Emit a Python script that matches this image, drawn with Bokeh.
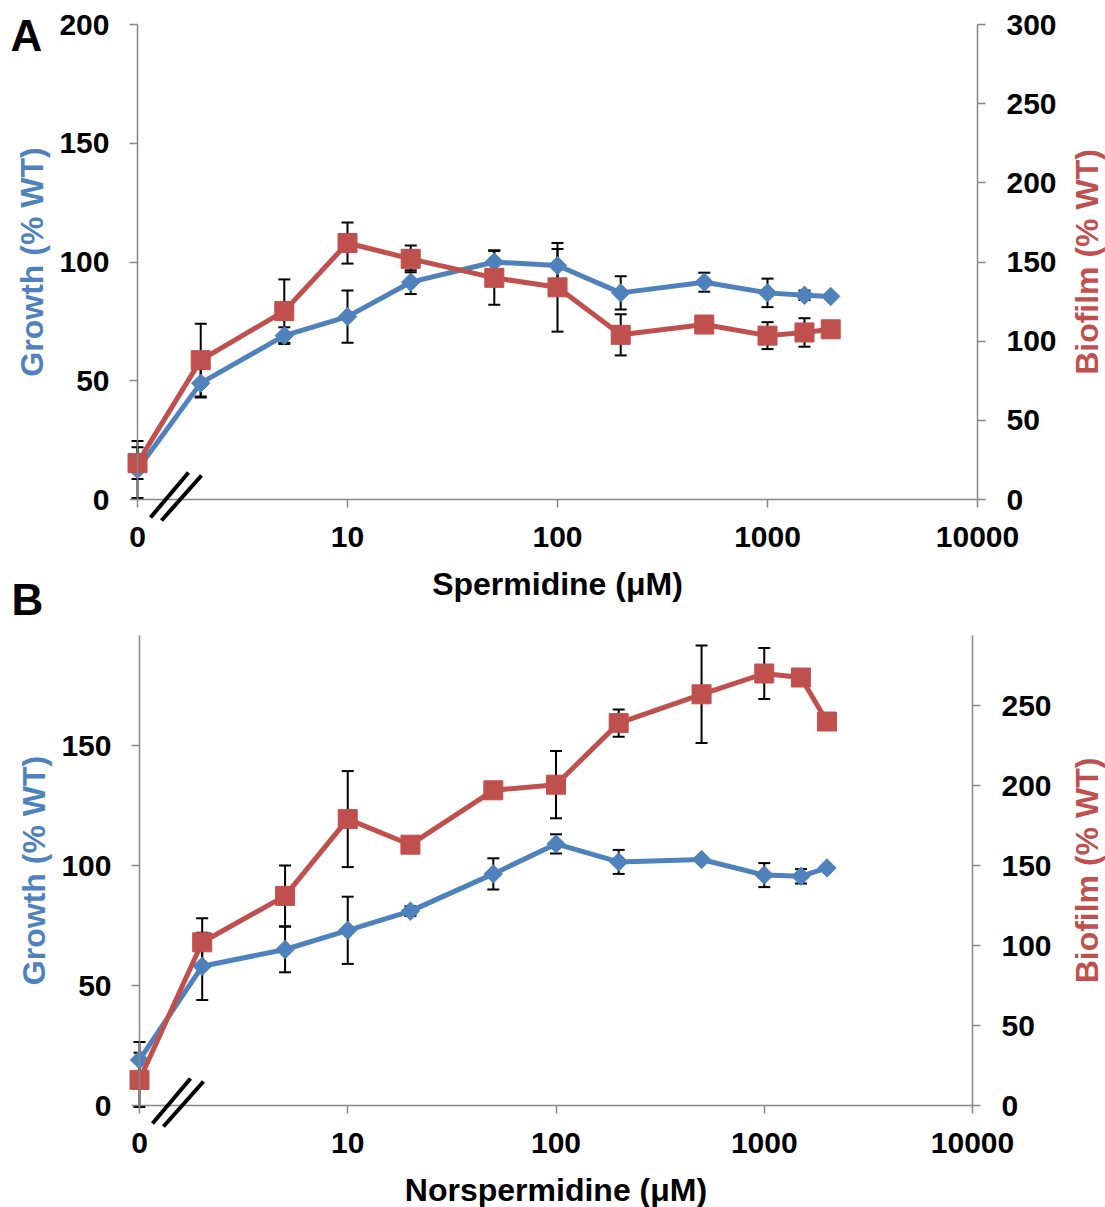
import numpy as np
from bokeh.plotting import figure
from bokeh.models import (Range1d, LinearAxis, FixedTicker, Whisker, TeeHead,
                          ColumnDataSource, Label, Arrow)
from bokeh.layouts import column
from bokeh.embed import file_html
from bokeh.resources import INLINE

# ---------------- data ----------------
concentration = [0, 2, 5, 10, 20, 50, 100, 200, 500, 1000, 1500, 2000]   # uM, 0 plotted at 1
x_ticks = [1, 10, 100, 1000, 10000]
x_tick_labels = ["0", "10", "100", "1000", "10000"]
growth_ticks = [0, 50, 100, 150, 200]
biofilm_ticks = [0, 50, 100, 150, 200, 250, 300]

# Panel A: spermidine
spd_growth = [12.6, 49, 69, 77, 91.5, 100, 98.5, 87, 91.5, 87, 86, 85.5]
spd_growth_err = [12, 6, 3.5, 11, 5, 5, 7, 7, 4, 6, 2, 0]
spd_biofilm = [23, 88, 119, 162, 152, 140, 134, 104, 110.5, 103.5, 105.5, 107.5]
spd_biofilm_err = [10, 23, 20, 13, 8.5, 17, 28, 13, 5, 8.5, 9, 0]

# Panel B: norspermidine
nspd_growth = [19, 58, 65, 73, 81, 96.5, 109, 101.5, 102.5, 96, 95.5, 99]
nspd_growth_err = [7.5, 14, 9.5, 14, 2, 6.5, 4, 5, 0, 5, 3, 0]
nspd_biofilm = [16, 102, 131, 179, 163, 197, 200.5, 239, 257, 270, 267.5, 240]
nspd_biofilm_err = [17, 15, 19, 30, 0, 0, 21, 8.5, 30.5, 16, 0, 0]

BLUE = "#4F81BD"
RED = "#C0504D"
AXIS = "#868686"
FONT = "Liberation Sans"
TICK_SIZE = "30px"
TITLE_SIZE = "32px"

# break mark offsets (pixels from the axis origin: dx right, dy up)
BREAK_MARKS = [((13, -18), (51, 27)), ((24, -21), (64, 24))]


def style_axis(ax):
    ax.axis_line_color = AXIS
    ax.axis_line_width = 1.5
    ax.major_tick_line_color = AXIS
    ax.major_tick_line_width = 1.5
    ax.major_tick_out = 8
    ax.major_tick_in = 0
    ax.minor_tick_line_color = None
    ax.major_label_text_font = FONT
    ax.major_label_text_font_style = "bold"
    ax.major_label_text_font_size = TICK_SIZE
    ax.major_label_text_color = "black"
    ax.axis_label_text_font = FONT
    ax.axis_label_text_font_style = "bold"
    ax.axis_label_text_font_size = TITLE_SIZE
    ax.axis_label_text_color = "black"


def panel(xtitle, growth, growth_err, biofilm, biofilm_err,
          W, H, ox, px_dec, oy, px_growth, px_bio, axis_top, letters):
    # geometry (pixels inside this figure) -> ranges
    growth_top = min(200, (oy - axis_top) / px_growth)
    bio_top = min(300, (oy - axis_top) / px_bio)
    x_range = Range1d(10 ** (-ox / px_dec), 10 ** ((W - ox) / px_dec))
    y_range = Range1d(-(H - oy) / px_growth, oy / px_growth)
    bio_range = Range1d(-(H - oy) / px_bio, oy / px_bio)

    def dx(px):            # pixel x in figure -> data x
        return 10 ** ((px - ox) / px_dec)

    def dy(py):            # pixel y in figure -> growth units
        return (oy - py) / px_growth

    xs = [c if c > 0 else 1 for c in concentration]
    p = figure(x_axis_type="log", x_range=x_range, y_range=y_range,
               width=W, height=H, min_border=0,
               output_backend="svg", toolbar_location=None)
    p.extra_y_ranges = {"bio": bio_range}
    p.outline_line_color = None
    p.grid.visible = False
    p.background_fill_color = "white"
    p.border_fill_color = "white"

    # x axis
    xa = p.xaxis[0]
    style_axis(xa)
    xa.fixed_location = 0
    xa.bounds = (x_ticks[0], x_ticks[-1])
    xa.ticker = FixedTicker(ticks=x_ticks)
    xa.major_label_overrides = {t: l for t, l in zip(x_ticks, x_tick_labels)}
    xa.major_label_standoff = 19
    xa.axis_label = xtitle
    xa.axis_label_standoff = 16

    # left axis
    ya = p.yaxis[0]
    style_axis(ya)
    ya.fixed_location = x_ticks[0]
    ya.bounds = (0, growth_top)
    ya.ticker = FixedTicker(ticks=[t for t in growth_ticks if t <= growth_top + 1e-9])
    ya.major_label_standoff = 20
    ya.axis_label = "Growth (% WT)"
    ya.axis_label_text_color = BLUE
    ya.axis_label_standoff = 6

    # right axis
    ra = LinearAxis(y_range_name="bio",
                    ticker=FixedTicker(ticks=[t for t in biofilm_ticks if t <= bio_top + 1e-9]))
    style_axis(ra)
    ra.fixed_location = x_ticks[-1]
    ra.bounds = (0, bio_top)
    ra.major_label_standoff = 21
    p.add_layout(ra, "right")

    # right axis title, reading bottom-to-top
    p.add_layout(Label(x=dx(1086), y=growth_top / 2, text="Biofilm (% WT)",
                       angle=np.pi / 2, text_align="center", text_baseline="middle",
                       text_font=FONT, text_font_style="bold", text_font_size=TITLE_SIZE,
                       text_color=RED))

    # panel letters
    for letter, (lx, ly) in letters:
        p.add_layout(Label(x=dx(lx), y=dy(ly), text=letter,
                           text_align="left", text_baseline="alphabetic",
                           text_font=FONT, text_font_style="bold", text_font_size="44px",
                           text_color="black"))

    # error bars
    g_idx = [i for i, e in enumerate(growth_err) if e > 0]
    gsrc = ColumnDataSource(dict(x=[xs[i] for i in g_idx],
                                 lo=[growth[i] - growth_err[i] for i in g_idx],
                                 hi=[growth[i] + growth_err[i] for i in g_idx]))
    b_idx = [i for i, e in enumerate(biofilm_err) if e > 0]
    bsrc = ColumnDataSource(dict(x=[xs[i] for i in b_idx],
                                 lo=[biofilm[i] - biofilm_err[i] for i in b_idx],
                                 hi=[biofilm[i] + biofilm_err[i] for i in b_idx]))
    for src, rname in ((gsrc, "default"), (bsrc, "bio")):
        w = Whisker(base="x", lower="lo", upper="hi", source=src,
                    line_color="black", line_width=2, level="underlay",
                    upper_head=TeeHead(size=12, line_color="black", line_width=2),
                    lower_head=TeeHead(size=12, line_color="black", line_width=2),
                    y_range_name=rname)
        p.add_layout(w)

    # series
    p.line(xs, growth, line_color=BLUE, line_width=5)
    p.scatter(xs, growth, marker="square", angle=np.pi / 4, size=13,
              fill_color=BLUE, line_color=BLUE)
    p.line(xs, biofilm, line_color=RED, line_width=5, y_range_name="bio")
    p.scatter(xs, biofilm, marker="square", size=19, fill_color=RED,
              line_color=RED, y_range_name="bio")

    # axis break marks
    for (x0, y0), (x1, y1) in BREAK_MARKS:
        p.add_layout(Arrow(x_start=dx(ox + x0), y_start=y0 / px_growth,
                           x_end=dx(ox + x1), y_end=y1 / px_growth,
                           start=None, end=None, line_color="black", line_width=4))
    return p


A_HEIGHT = 632
pa = panel("Spermidine (\u03bcM)", spd_growth, spd_growth_err,
           spd_biofilm, spd_biofilm_err,
           W=1105, H=A_HEIGHT, ox=137, px_dec=210, oy=499,
           px_growth=475 / 200, px_bio=475 / 300, axis_top=24,
           letters=[("A", (10, 35)), ("B", (11, 599))])
pb = panel("Norspermidine (\u03bcM)", nspd_growth, nspd_growth_err,
           nspd_biofilm, nspd_biofilm_err,
           W=1105, H=1207 - A_HEIGHT, ox=139, px_dec=833 / 4, oy=1105 - A_HEIGHT,
           px_growth=2.4, px_bio=1.6, axis_top=635 - A_HEIGHT, letters=[])

layout = column(pa, pb, spacing=0)
open("out.html", "w").write(file_html(layout, INLINE))
